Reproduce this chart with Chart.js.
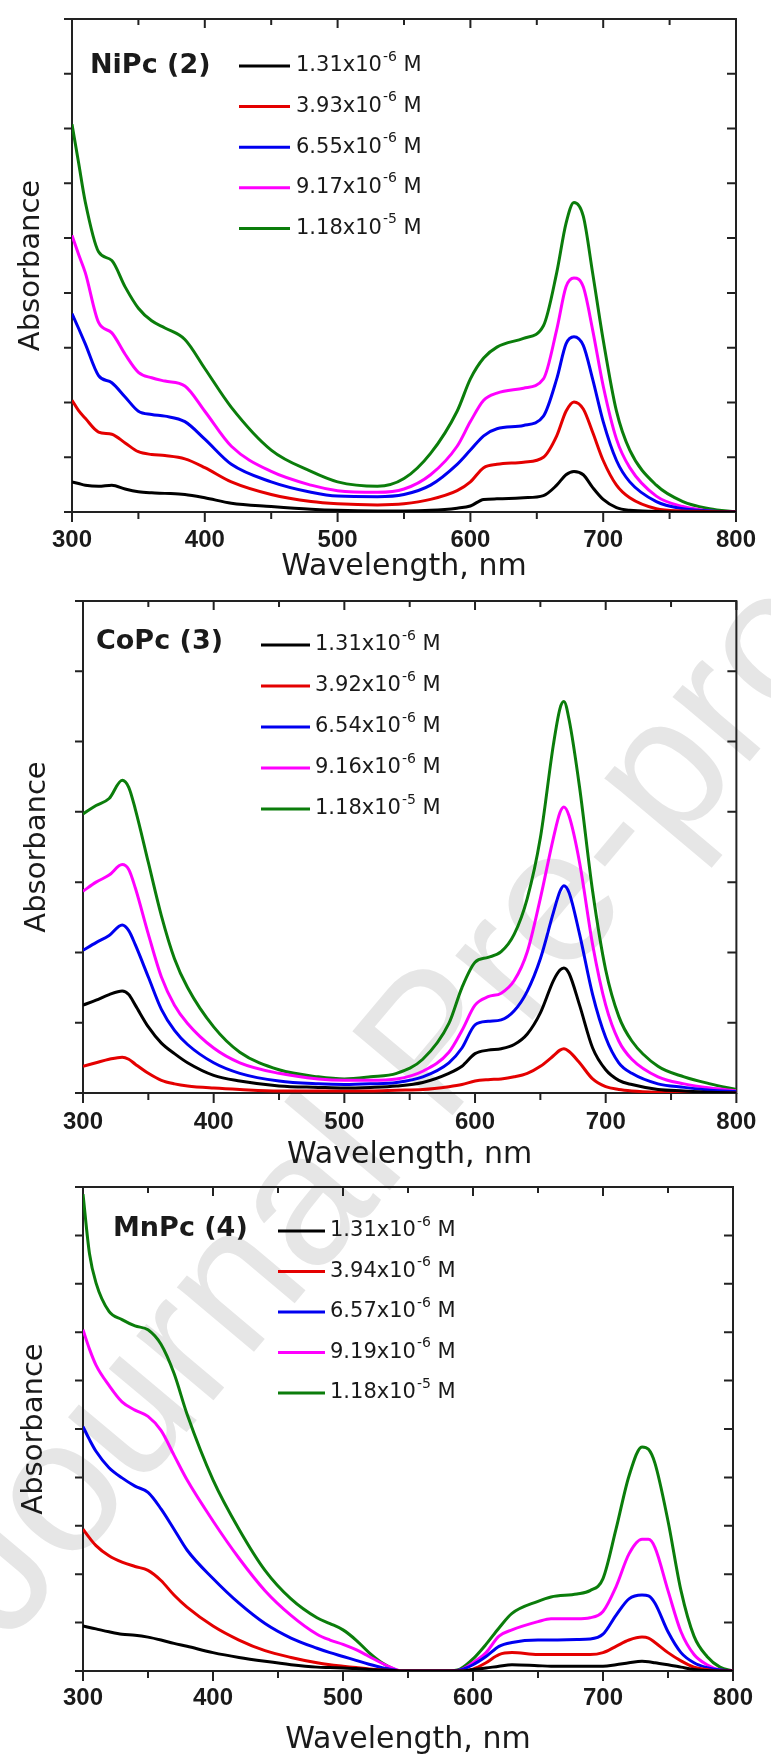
<!DOCTYPE html>
<html>
<head>
<meta charset="utf-8">
<script src="https://cdn.jsdelivr.net/npm/chart.js@4.4.1/dist/chart.umd.min.js"></script>
<style>
  body { margin: 0; background: #fff; }
  #page { position: relative; width: 771px; height: 1762px; overflow: hidden; background: #fff; }
  #watermark {
    position: absolute; left: 8px; top: 1484px;
    font: 190px "Liberation Sans", Arial, sans-serif; line-height: 1;
    color: #e6e6e6; white-space: nowrap;
    transform-origin: 0 161px; transform: rotate(-50deg);
  }
  canvas { position: absolute; left: 0; }
</style>
</head>
<body>
<div id="page">
  <div id="watermark">Journal Pre-proof</div>
  <canvas id="chart_ni" width="771" height="596" style="top:0px"></canvas>
  <canvas id="chart_co" width="771" height="588" style="top:596px"></canvas>
  <canvas id="chart_mn" width="771" height="578" style="top:1184px"></canvas>
</div>
<script>
//
// DATA — NiPc (2)
//
const ni_wl = [300,305,310,320,330,340,350,360,370,385,400,420,450,480,500,530,550,570,590,600,610,620,640,655,665,672,678,685,692,700,710,720,740,760,780,800];
const ni_c1 = [0.55,0.52,0.49,0.47,0.49,0.42,0.37,0.35,0.34,0.32,0.26,0.16,0.10,0.05,0.03,0.02,0.02,0.03,0.07,0.11,0.23,0.24,0.26,0.30,0.49,0.68,0.74,0.68,0.45,0.23,0.08,0.03,0.01,0,0,0];
const ni_c2 = [2.04,1.85,1.71,1.46,1.42,1.26,1.10,1.05,1.03,0.97,0.81,0.55,0.32,0.19,0.15,0.13,0.15,0.23,0.39,0.55,0.81,0.87,0.91,1.00,1.39,1.84,2.01,1.88,1.46,0.94,0.49,0.26,0.06,0.02,0.01,0];
const ni_c3 = [3.62,3.35,3.07,2.49,2.36,2.10,1.84,1.78,1.75,1.65,1.33,0.87,0.55,0.36,0.29,0.28,0.32,0.49,0.87,1.13,1.39,1.52,1.58,1.75,2.43,3.07,3.20,3.04,2.43,1.65,0.94,0.55,0.19,0.06,0.02,0];
const ni_c4 = [5.05,4.70,4.37,3.46,3.27,2.88,2.55,2.45,2.39,2.30,1.84,1.20,0.74,0.49,0.39,0.36,0.42,0.68,1.20,1.65,2.04,2.17,2.26,2.43,3.33,4.11,4.27,4.11,3.33,2.30,1.33,0.81,0.29,0.10,0.02,0];
const ni_c5 = [7.08,6.37,5.66,4.75,4.59,4.11,3.72,3.49,3.36,3.15,2.62,1.91,1.13,0.74,0.55,0.47,0.61,1.07,1.84,2.43,2.81,3.01,3.17,3.40,4.37,5.27,5.65,5.40,4.37,3.14,1.84,1.13,0.49,0.19,0.06,0];
const ni_labels = ["1.31x10^-6 M", "3.93x10^-6 M", "6.55x10^-6 M", "9.17x10^-6 M", "1.18x10^-5 M"];

//
// DATA — CoPc (3)
//
const co_wl = [300,310,320,330,335,340,350,360,370,380,400,420,450,480,500,520,540,560,580,590,600,610,620,630,640,650,660,665,668,672,680,690,700,710,720,740,760,780,800];
const co_c1 = [1.25,1.32,1.40,1.45,1.40,1.25,0.94,0.71,0.56,0.43,0.25,0.17,0.10,0.08,0.07,0.08,0.10,0.15,0.28,0.38,0.56,0.61,0.63,0.69,0.84,1.14,1.60,1.75,1.78,1.70,1.25,0.64,0.33,0.18,0.12,0.05,0.03,0.01,0];
const co_c2 = [0.38,0.43,0.48,0.51,0.48,0.41,0.28,0.18,0.13,0.10,0.07,0.05,0.03,0.03,0.03,0.03,0.04,0.05,0.09,0.12,0.17,0.19,0.20,0.23,0.28,0.38,0.53,0.61,0.63,0.59,0.43,0.20,0.09,0.05,0.03,0.01,0,0,0];
const co_c3 = [2.03,2.14,2.24,2.39,2.31,2.11,1.65,1.19,0.89,0.69,0.43,0.28,0.17,0.13,0.12,0.13,0.15,0.23,0.43,0.64,0.97,1.02,1.04,1.17,1.45,1.91,2.57,2.87,2.95,2.85,2.26,1.40,0.79,0.43,0.28,0.13,0.08,0.04,0.02];
const co_c4 = [2.87,3.00,3.10,3.25,3.18,2.92,2.26,1.65,1.25,0.99,0.64,0.43,0.28,0.20,0.18,0.18,0.20,0.31,0.58,0.89,1.25,1.37,1.42,1.60,2.01,2.77,3.63,3.99,4.07,3.94,3.28,2.11,1.25,0.74,0.48,0.23,0.13,0.07,0.03];
const co_c5 = [3.97,4.09,4.19,4.45,4.35,4.04,3.28,2.52,1.91,1.50,0.94,0.58,0.33,0.23,0.20,0.23,0.28,0.48,0.99,1.50,1.86,1.93,2.01,2.26,2.77,3.63,4.96,5.47,5.57,5.31,4.35,2.87,1.75,1.09,0.74,0.38,0.23,0.13,0.05];
const co_labels = ["1.31x10^-6 M", "3.92x10^-6 M", "6.54x10^-6 M", "9.16x10^-6 M", "1.18x10^-5 M"];

//
// DATA — MnPc (4)
//
const mn_wl = [300,305,310,320,330,340,350,360,370,380,400,420,440,460,480,490,500,510,520,530,540,545,560,580,590,600,610,620,630,650,660,680,690,700,710,720,730,735,740,750,760,770,780,790,800];
const mn_c1 = [0.93,0.90,0.87,0.81,0.76,0.74,0.70,0.64,0.57,0.51,0.38,0.28,0.20,0.13,0.08,0.07,0.06,0.05,0.03,0.02,0.01,0,0,0,0,0.03,0.06,0.10,0.13,0.11,0.10,0.10,0.10,0.10,0.13,0.17,0.20,0.19,0.17,0.13,0.08,0.03,0.01,0,0];
const mn_c2 = [2.93,2.75,2.59,2.38,2.25,2.16,2.08,1.87,1.57,1.32,0.93,0.64,0.42,0.28,0.17,0.13,0.10,0.07,0.04,0.02,0.01,0,0,0,0,0.04,0.17,0.34,0.38,0.34,0.34,0.34,0.34,0.38,0.51,0.64,0.70,0.68,0.59,0.38,0.21,0.08,0.03,0,0];
const mn_c3 = [5.05,4.78,4.54,4.20,3.99,3.82,3.69,3.35,2.93,2.50,1.91,1.40,0.98,0.68,0.47,0.38,0.30,0.22,0.14,0.07,0.02,0,0,0,0.02,0.13,0.30,0.51,0.59,0.64,0.64,0.65,0.66,0.76,1.15,1.49,1.57,1.55,1.40,0.81,0.38,0.17,0.07,0.02,0];
const mn_c4 = [7.05,6.65,6.32,5.90,5.56,5.39,5.26,4.97,4.46,3.95,3.10,2.33,1.66,1.15,0.76,0.64,0.55,0.44,0.30,0.16,0.04,0,0,0,0.02,0.17,0.38,0.72,0.85,1.02,1.08,1.08,1.10,1.23,1.74,2.42,2.72,2.72,2.55,1.66,0.81,0.34,0.13,0.02,0];
const mn_c5 = [9.85,8.62,8.02,7.43,7.26,7.13,7.05,6.75,6.15,5.31,3.95,2.93,2.08,1.49,1.10,0.98,0.85,0.64,0.38,0.17,0.03,0,0,0,0.04,0.25,0.55,0.89,1.19,1.44,1.53,1.59,1.66,1.91,2.93,4.03,4.63,4.58,4.29,3.10,1.66,0.72,0.30,0.08,0];
const mn_labels = ["1.31x10^-6 M", "3.94x10^-6 M", "6.57x10^-6 M", "9.19x10^-6 M", "1.18x10^-5 M"];

// x axis ticks
const wl_min = 300;
const wl_max = 800;
const wl_step = 50;

const series_colors = ["#000000", "#e40000", "#0000f0", "#ff00ff", "#0b7d0b"];

//
// FRAME, MIRRORED TICKS AND IN-PLOT LEGEND
//
function split_label(s) {
    const m = s.match(/^(.*?)\^(\S+)(.*)$/);
    return [m[1], m[2], m[3]];
}

const frame_plugin = {
    id: "frame_plugin",
    beforeDatasetsDraw(chart) {
        const ctx = chart.ctx;
        const a = chart.chartArea;
        const x = chart.scales.x;
        const y = chart.scales.y;
        ctx.save();
        ctx.strokeStyle = "#222";
        ctx.lineWidth = 2;
        ctx.beginPath();
        x.ticks.forEach(t => {
            const px = x.getPixelForValue(t.value);
            const major = t.value % 100 === 0;
            ctx.moveTo(px, a.bottom);
            ctx.lineTo(px, a.bottom + (major ? 10 : 7));
            ctx.moveTo(px, a.top);
            ctx.lineTo(px, a.top + (major ? 9 : 6));
        });
        y.ticks.forEach(t => {
            const py = y.getPixelForValue(t.value);
            ctx.moveTo(a.left - 8, py);
            ctx.lineTo(a.left, py);
            ctx.moveTo(a.right, py);
            ctx.lineTo(a.right - 9, py);
        });
        ctx.stroke();
        ctx.strokeRect(a.left, a.top, a.right - a.left, a.bottom - a.top);
        ctx.restore();
    },
    afterDatasetsDraw(chart, args, o) {
        const ctx = chart.ctx;
        ctx.save();
        ctx.fillStyle = "#1a1a1a";
        ctx.textBaseline = "middle";
        ctx.font = "bold 27px 'DejaVu Sans', sans-serif";
        ctx.fillText(o.name, o.name_x, o.name_y);

        o.labels.forEach((s, i) => {
            const yy = o.row_y + i * o.row_step;
            ctx.strokeStyle = series_colors[i];
            ctx.lineWidth = 3;
            ctx.beginPath();
            ctx.moveTo(o.line_x0, yy);
            ctx.lineTo(o.line_x1, yy);
            ctx.stroke();

            const [base, expo, rest] = split_label(s);
            let tx = o.text_x;
            ctx.font = "21px 'DejaVu Sans', sans-serif";
            ctx.fillText(base, tx, yy);
            tx += ctx.measureText(base).width + 1;
            ctx.font = "14px 'DejaVu Sans', sans-serif";
            ctx.fillText(expo, tx, yy - 9);
            tx += ctx.measureText(expo).width;
            ctx.font = "21px 'DejaVu Sans', sans-serif";
            ctx.fillText(rest, tx, yy);
        });
        ctx.restore();
    }
};

//
// CHART BUILDER
//
function make_panel(canvas_id, wl, series, labels, y_max, geo) {
    const datasets = series.map((vals, i) => ({
        label: labels[i].replace("^", ""),
        data: wl.map((w, k) => ({ x: w, y: vals[k] })),
        borderColor: series_colors[i],
        borderWidth: 3,
        pointRadius: 0,
        fill: false,
        cubicInterpolationMode: "monotone"
    }));

    return new Chart(document.getElementById(canvas_id), {
        type: "line",
        data: { datasets },
        options: {
            responsive: false,
            animation: false,
            layout: { padding: geo.padding },
            plugins: {
                legend: { display: false },
                tooltip: { enabled: false },
                frame_plugin: geo.legend
            },
            scales: {
                x: {
                    type: "linear",
                    min: wl_min,
                    max: wl_max,
                    grid: { display: false, drawTicks: false },
                    border: { display: false },
                    ticks: {
                        stepSize: wl_step,
                        autoSkip: false,
                        maxRotation: 0,
                        padding: geo.tick_pad,
                        color: "#1a1a1a",
                        font: { family: "'Liberation Sans', Arial, sans-serif", size: 24, weight: "bold" },
                        callback: (v) => (v % 100 === 0 ? String(v) : "")
                    },
                    title: {
                        display: true,
                        text: "Wavelength, nm",
                        color: "#1a1a1a",
                        padding: 0,
                        font: { family: "'DejaVu Sans', sans-serif", size: 30, lineHeight: 1 }
                    },
                    afterFit: (scale) => { scale.height = geo.x_height; }
                },
                y: {
                    min: 0,
                    max: y_max,
                    grid: { display: false, drawTicks: false },
                    border: { display: false },
                    ticks: { display: false, stepSize: 1 },
                    title: {
                        display: true,
                        text: "Absorbance",
                        color: "#1a1a1a",
                        padding: 0,
                        font: { family: "'DejaVu Sans', sans-serif", size: 29, lineHeight: 1 }
                    },
                    afterFit: (scale) => { scale.width = geo.y_width; }
                }
            }
        },
        plugins: [frame_plugin]
    });
}

make_panel("chart_ni", ni_wl, [ni_c1, ni_c2, ni_c3, ni_c4, ni_c5], ni_labels, 9, {
    padding: { top: 19, right: 35, bottom: 14, left: 16.5 },
    x_height: 70, y_width: 55.5, tick_pad: 13.6,
    legend: { name: "NiPc (2)", name_x: 90, name_y: 66, labels: ni_labels,
              line_x0: 239, line_x1: 290, text_x: 296, row_y: 66, row_step: 40.6 }
});

make_panel("chart_co", co_wl, [co_c1, co_c2, co_c3, co_c4, co_c5], co_labels, 7, {
    padding: { top: 5, right: 26, bottom: 14, left: 22.5 },
    x_height: 77, y_width: 60.5, tick_pad: 14.6,
    legend: { name: "CoPc (3)", name_x: 96, name_y: 46, labels: co_labels,
              line_x0: 261, line_x1: 310, text_x: 315, row_y: 49, row_step: 41 }
});

make_panel("chart_mn", mn_wl, [mn_c1, mn_c2, mn_c3, mn_c4, mn_c5], mn_labels, 10, {
    padding: { top: 3, right: 38, bottom: 7, left: 19.5 },
    x_height: 84, y_width: 63.5, tick_pad: 12.6,
    legend: { name: "MnPc (4)", name_x: 113, name_y: 45, labels: mn_labels,
              line_x0: 278, line_x1: 325, text_x: 330, row_y: 47, row_step: 40.5 }
});
</script>
</body>
</html>
